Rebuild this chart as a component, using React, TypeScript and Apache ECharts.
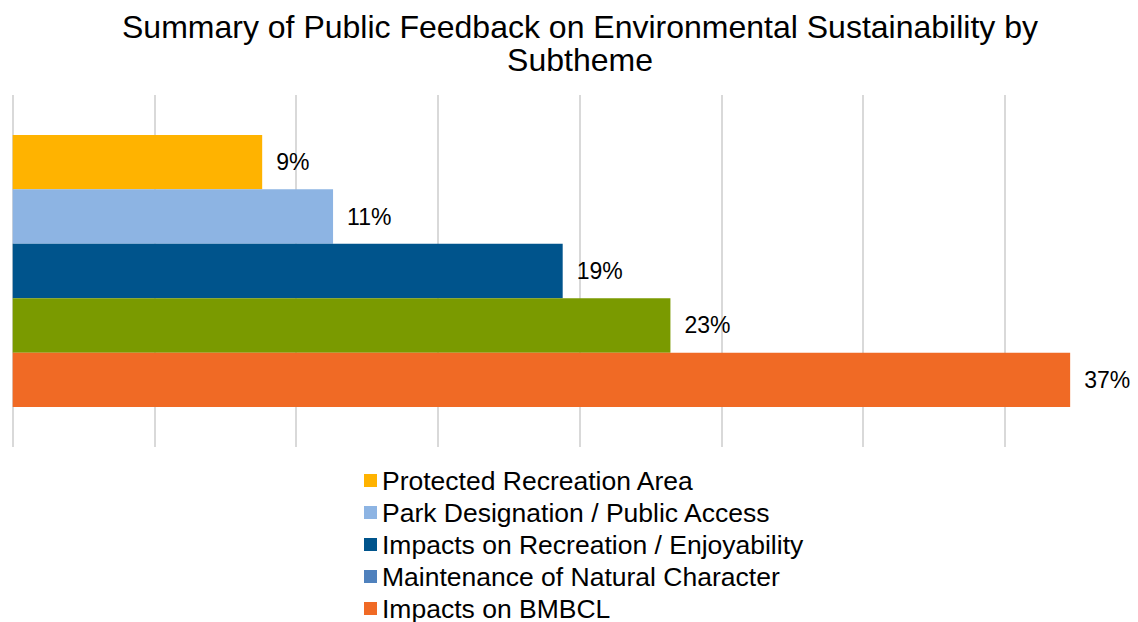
import React, { useEffect, useRef } from "react";
import * as echarts from "echarts";

const titleText = "Summary of Public Feedback on Environmental Sustainability by\nSubtheme";
const categories = ["Subtheme"];
const seriesNames = [
  "Protected Recreation Area",
  "Park Designation / Public Access",
  "Impacts on Recreation / Enjoyability",
  "Maintenance of Natural Character",
  "Impacts on BMBCL",
];
const seriesValues = [8.8, 11.3, 19.4, 23.2, 37.3];
const barColors = ["#FFB300", "#8DB4E3", "#00548C", "#7A9A00", "#F06A25"];
const legendColors = ["#FFB300", "#8DB4E3", "#00548C", "#4F81BD", "#F06A25"];

const FONT = "'Liberation Sans', Arial, sans-serif";

export default function App() {
  const ref = useRef<HTMLDivElement>(null);
  useEffect(() => {
    if (!ref.current) return;
    const chart = echarts.init(ref.current, undefined, { renderer: "svg" });
    chart.setOption({
      animation: false,
      backgroundColor: "#ffffff",
      textStyle: { fontFamily: FONT },
      title: {
        text: titleText,
        left: 575,
        top: 5,
        textAlign: "center",
        textStyle: {
          fontFamily: FONT,
          fontSize: 32,
          fontWeight: "normal",
          color: "#000000",
          lineHeight: 33,
        },
      },
      legend: seriesNames.map((n, i) => ({
        orient: "vertical",
        left: 364,
        top: 467 + i * 32,
        padding: 0,
        itemWidth: 13,
        itemHeight: 13,
        icon: "rect",
        selectedMode: false,
        textStyle: {
          fontFamily: FONT,
          fontSize: 26.5,
          color: "#000000",
        },
        data: [{ name: n, itemStyle: { color: legendColors[i] } }],
      })),
      grid: {
        left: 12.7,
        width: 1134,
        top: 95,
        height: 352,
        containLabel: false,
      },
      xAxis: {
        type: "value",
        min: 0,
        max: 40,
        interval: 5,
        axisLine: { show: false },
        axisTick: { show: false },
        axisLabel: { show: false },
        splitLine: { show: true, lineStyle: { color: "#d9d9d9", width: 2 } },
      },
      yAxis: {
        type: "category",
        data: categories,
        inverse: true,
        axisLine: { show: false },
        axisTick: { show: false },
        axisLabel: { show: false },
      },
      series: seriesNames.map((n, i) => ({
        name: n,
        type: "bar",
        barGap: "0%",
        barCategoryGap: "22.7%",
        itemStyle: { color: legendColors[i] },
        data: [
          {
            value: seriesValues[i],
            itemStyle: { color: barColors[i] },
          },
        ],
        label: {
          show: true,
          position: "right",
          distance: 14,
          fontFamily: FONT,
          fontSize: 23,
          color: "#000000",
          formatter: (p: any) => Math.round(p.value) + "%",
        },
      })),
    });
    return () => chart.dispose();
  }, []);
  return (
    <div
      style={{
        position: "fixed",
        left: 0,
        top: 0,
        width: 1138,
        height: 622,
        overflow: "hidden",
        background: "#ffffff",
      }}
    >
      <div ref={ref} style={{ width: 1160, height: 622 }} />
    </div>
  );
}
